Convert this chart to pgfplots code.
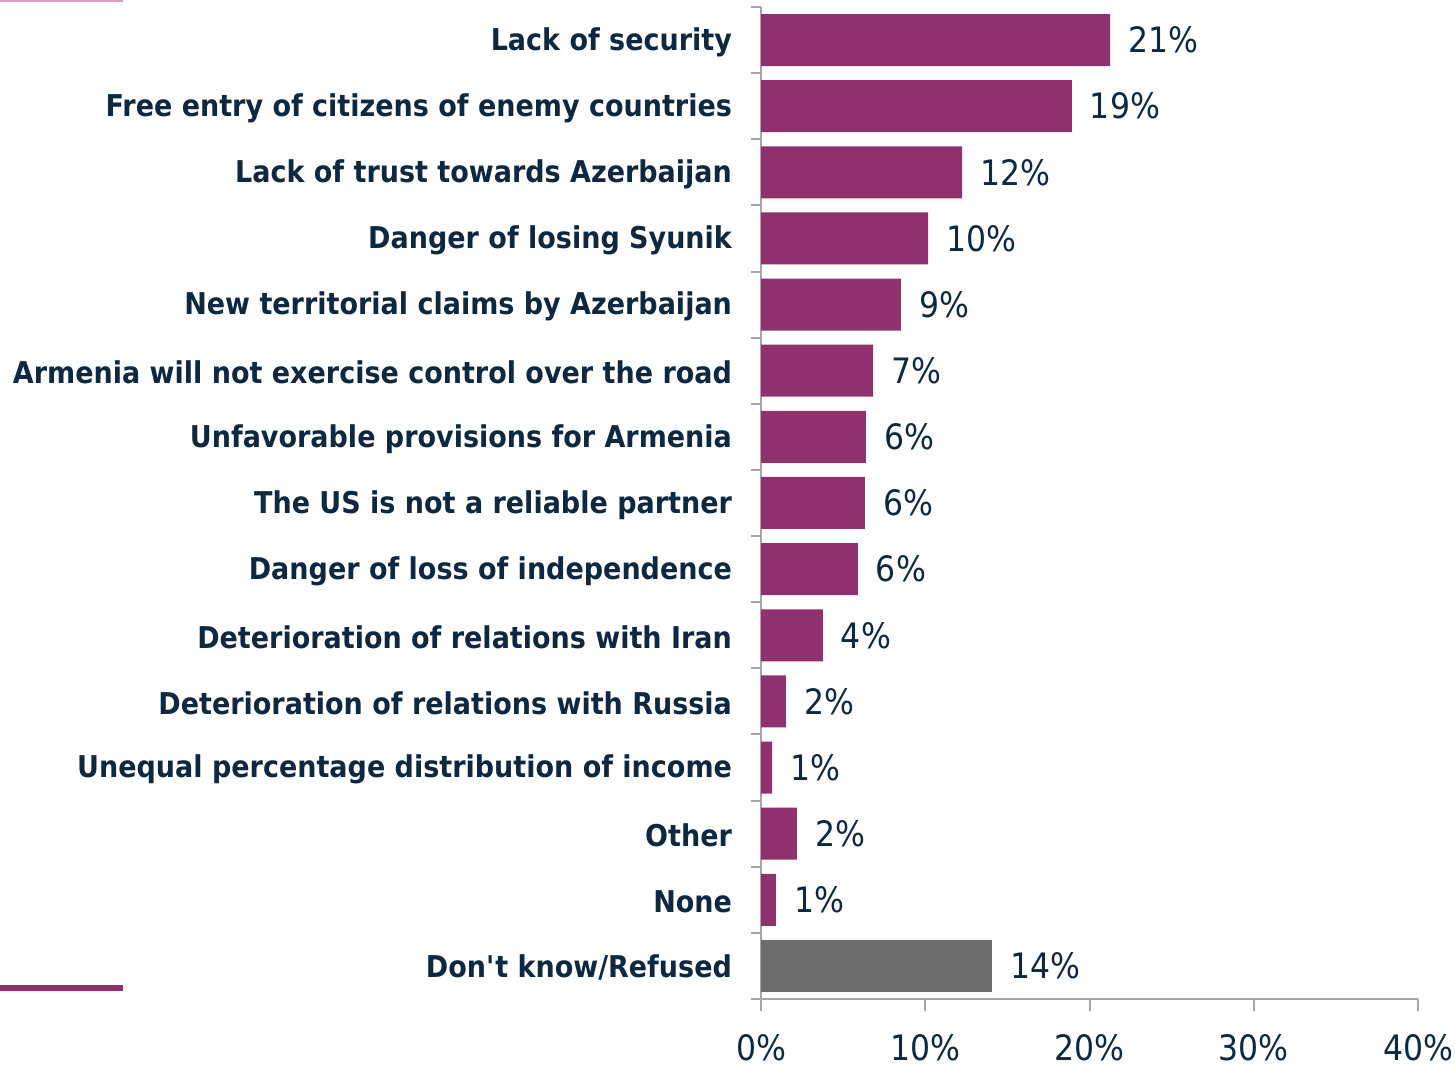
\documentclass[border=0pt]{standalone}
\usepackage{pgfplots}
\pgfplotsset{compat=1.18}
\usepackage{pgfplotstable}
\usepackage{fontspec}
\setmainfont{DejaVu Sans}[FakeStretch=0.9]
\definecolor{barp}{HTML}{8F316C}
\definecolor{barg}{HTML}{6D6D6D}
\definecolor{txt}{HTML}{0E2841}
\definecolor{axg}{HTML}{A6A6A6}
\definecolor{lpink}{HTML}{D9A0C4}

\pgfplotstableread{
y x lbl
0 21.25 21
1 18.93 19
2 12.24 12
3 10.17 10
4 8.52 9
5 6.82 7
6 6.39 6
7 6.33 6
8 5.90 6
9 3.77 4
10 1.52 2
11 0.67 1
12 2.19 2
13 0.91 1
}\mainbars
\pgfplotstableread{
y x lbl
14 14.06 14
}\dkbars

\begin{document}
\begin{tikzpicture}
\useasboundingbox (0,0) rectangle (727.5pt,534pt);
\draw[lpink, line width=2pt] (0,534pt) -- (61.5pt,534pt);
\draw[barp, line width=3pt] (0,40pt) -- (61.5pt,40pt);
\begin{axis}[
  at={(380.5pt,34.5pt)}, anchor=south west,
  scale only axis, width=328.5pt, height=496pt,
  xbar, bar width=26pt, bar shift=0pt,
  xmin=0, xmax=40, ymin=-0.5, ymax=14.5, y dir=reverse,
  axis x line*=bottom, axis y line*=left,
  axis line style={axg, line width=1pt},
  xtick={0,10,20,30,40},
  xticklabel={\pgfmathprintnumber{\tick}\%},
  /pgf/number format/assume math mode=true,
  ytick={0,...,14},
  yticklabels={Lack of security, Free entry of citizens of enemy countries, Lack of trust towards Azerbaijan, Danger of losing Syunik, New territorial claims by Azerbaijan, Armenia will not exercise control over the road, Unfavorable provisions for Armenia, The US is not a reliable partner, Danger of loss of independence, Deterioration of relations with Iran, Deterioration of relations with Russia, Unequal percentage distribution of income, Other, None, Don\textquotesingle t know/Refused},
  minor ytick={-0.5,0.5,...,14.5},
  tick align=outside, major tick length=6pt, minor tick length=5pt,
  tick style={axg, line width=1pt},
  major y tick style={draw=none},
  xticklabel style={font=\fontsize{17.5}{20}\selectfont, text=txt, yshift=-8pt},
  yticklabel style={font=\bfseries\fontsize{15}{18}\selectfont, text=txt, xshift=-5pt, yshift=-1pt},
  point meta=explicit symbolic,
  nodes near coords={\pgfplotspointmeta\%},
  nodes near coords style={anchor=west, font=\fontsize{17.5}{20}\selectfont, text=txt, xshift=5.5pt},
]
\addplot[fill=barp, draw=none] table[x=x, y=y, meta=lbl] {\mainbars};
\addplot[fill=barg, draw=none] table[x=x, y=y, meta=lbl] {\dkbars};
\end{axis}
\end{tikzpicture}
\end{document}
